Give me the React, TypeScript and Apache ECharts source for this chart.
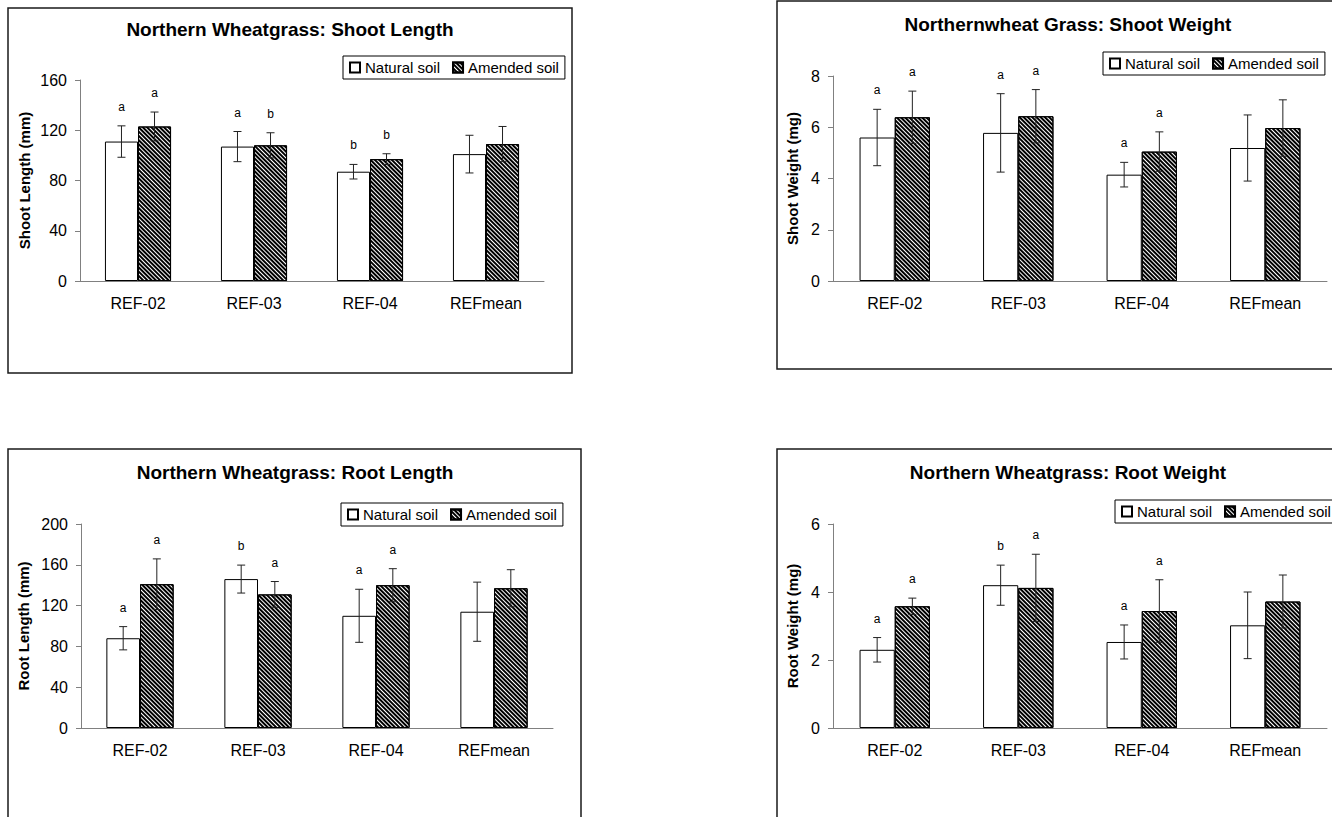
import React, { useEffect, useRef } from 'react';
import * as echarts from 'echarts';

// ---------- data ----------
const categories = ['REF-02', 'REF-03', 'REF-04', 'REFmean'];
const seriesNames = ['Natural soil', 'Amended soil'];

const shootLengthNatural = [111, 107, 87, 101];
const shootLengthNaturalErr = [12.5, 12, 5.8, 15];
const shootLengthAmended = [123, 108, 97, 109];
const shootLengthAmendedErr = [11.5, 10, 4.3, 14];
const shootLengthNaturalLetters = ['a', 'a', 'b', ''];
const shootLengthAmendedLetters = ['a', 'b', 'b', ''];

const shootWeightNatural = [5.6, 5.78, 4.15, 5.19];
const shootWeightNaturalErr = [1.1, 1.53, 0.48, 1.29];
const shootWeightAmended = [6.39, 6.43, 5.05, 5.97];
const shootWeightAmendedErr = [1.02, 1.04, 0.77, 1.1];
const shootWeightNaturalLetters = ['a', 'a', 'a', ''];
const shootWeightAmendedLetters = ['a', 'a', 'a', ''];

const rootLengthNatural = [88, 146, 110, 114];
const rootLengthNaturalErr = [11.4, 13.7, 26, 29];
const rootLengthAmended = [141, 131, 140, 137];
const rootLengthAmendedErr = [24.8, 12.6, 16.2, 18.2];
const rootLengthNaturalLetters = ['a', 'b', 'a', ''];
const rootLengthAmendedLetters = ['a', 'a', 'a', ''];

const rootWeightNatural = [2.3, 4.2, 2.53, 3.02];
const rootWeightNaturalErr = [0.36, 0.59, 0.5, 0.98];
const rootWeightAmended = [3.58, 4.12, 3.44, 3.72];
const rootWeightAmendedErr = [0.24, 0.99, 0.92, 0.78];
const rootWeightNaturalLetters = ['a', 'b', 'a', ''];
const rootWeightAmendedLetters = ['a', 'a', 'a', ''];

// ---------- layout / style ----------
const FONT = '"Liberation Sans", Arial, Helvetica, sans-serif';
const BAR_RATIO = 0.285;
const AXIS_COLOR = '#808080';

const panels = [
  {
    title: 'Northern Wheatgrass: Shoot Length',
    yName: 'Shoot Length (mm)',
    max: 160, interval: 40,
    natural: shootLengthNatural, naturalErr: shootLengthNaturalErr, naturalLetters: shootLengthNaturalLetters,
    amended: shootLengthAmended, amendedErr: shootLengthAmendedErr, amendedLetters: shootLengthAmendedLetters,
    frame: { x: 8, y: 8, w: 564, h: 365 },
    titlePos: [290, 29],
    grid: { left: 80, top: 80, width: 464, height: 201 },
    legend: { left: 343, top: 56 },
    nameGap: 48,
  },
  {
    title: 'Northernwheat Grass: Shoot Weight',
    yName: 'Shoot Weight (mg)',
    max: 8, interval: 2,
    natural: shootWeightNatural, naturalErr: shootWeightNaturalErr, naturalLetters: shootWeightNaturalLetters,
    amended: shootWeightAmended, amendedErr: shootWeightAmendedErr, amendedLetters: shootWeightAmendedLetters,
    frame: { x: 777, y: 1, w: 600, h: 368 },
    titlePos: [1068, 24],
    grid: { left: 833, top: 76, width: 494, height: 205 },
    legend: { left: 1103, top: 52 },
    nameGap: 33,
  },
  {
    title: 'Northern Wheatgrass: Root Length',
    yName: 'Root Length (mm)',
    max: 200, interval: 40,
    natural: rootLengthNatural, naturalErr: rootLengthNaturalErr, naturalLetters: rootLengthNaturalLetters,
    amended: rootLengthAmended, amendedErr: rootLengthAmendedErr, amendedLetters: rootLengthAmendedLetters,
    frame: { x: 8, y: 449, w: 573, h: 500 },
    titlePos: [295, 472],
    grid: { left: 81, top: 524, width: 472, height: 204 },
    legend: { left: 341, top: 503 },
    nameGap: 50,
  },
  {
    title: 'Northern Wheatgrass: Root Weight',
    yName: 'Root Weight (mg)',
    max: 6, interval: 2,
    natural: rootWeightNatural, naturalErr: rootWeightNaturalErr, naturalLetters: rootWeightNaturalLetters,
    amended: rootWeightAmended, amendedErr: rootWeightAmendedErr, amendedLetters: rootWeightAmendedLetters,
    frame: { x: 777, y: 449, w: 600, h: 500 },
    titlePos: [1068, 472],
    grid: { left: 833, top: 524, width: 494, height: 204 },
    legend: { left: 1115, top: 500 },
    nameGap: 33,
  },
];

function errorSeries(idx: number, means: number[], errs: number[], letters: string[], side: number) {
  return {
    type: 'custom',
    name: 'err' + idx + '_' + side,
    xAxisIndex: idx,
    yAxisIndex: idx,
    silent: true,
    z: 10,
    data: means.map((m, i) => [i, m, errs[i]]),
    encode: { x: 0, y: 1 },
    renderItem: (params: any, api: any) => {
      const i = api.value(0);
      const m = api.value(1);
      const e = api.value(2);
      const band = api.size([1, 0])[0];
      const off = (side * band * BAR_RATIO) / 2;
      const top = api.coord([i, m + e]);
      const bot = api.coord([i, m - e]);
      const x = top[0] + off;
      const cap = 4;
      const ls = { stroke: '#222', lineWidth: 1 };
      const children: any[] = [
        { type: 'line', shape: { x1: x, y1: top[1], x2: x, y2: bot[1] }, style: ls },
        { type: 'line', shape: { x1: x - cap, y1: top[1], x2: x + cap, y2: top[1] }, style: ls },
        { type: 'line', shape: { x1: x - cap, y1: bot[1], x2: x + cap, y2: bot[1] }, style: ls },
      ];
      const letter = letters[params.dataIndex];
      if (letter) {
        children.push({
          type: 'text',
          style: {
            text: letter, x, y: top[1] - 19,
            align: 'center', verticalAlign: 'middle',
            textAlign: 'center', textVerticalAlign: 'middle',
            font: '12px ' + FONT, fill: '#000',
          },
        });
      }
      return { type: 'group', children };
    },
  };
}

export default function App() {
  const ref = useRef<HTMLDivElement>(null);
  useEffect(() => {
    if (!ref.current) return;
    const chart = echarts.init(ref.current, null, { renderer: 'svg' });

    const graphic: any[] = [];
    panels.forEach((p) => {
      graphic.push({
        type: 'rect', silent: true, z: -10,
        shape: { x: p.frame.x, y: p.frame.y, width: p.frame.w, height: p.frame.h },
        style: { fill: '#fff', stroke: '#1a1a1a', lineWidth: 1.5 },
      });
      graphic.push({
        type: 'text', silent: true,
        style: {
          text: p.title, x: p.titlePos[0], y: p.titlePos[1],
          align: 'center', verticalAlign: 'middle',
          textAlign: 'center', textVerticalAlign: 'middle',
          font: 'bold 19px ' + FONT, fill: '#000',
        },
      });
    });

    const series: any[] = [];
    panels.forEach((p, i) => {
      series.push({
        type: 'bar', name: seriesNames[0], xAxisIndex: i, yAxisIndex: i,
        data: p.natural, barWidth: (BAR_RATIO * 100) + '%', barGap: '0%',
        itemStyle: { color: '#fff', borderColor: '#000', borderWidth: 1 },
      });
      series.push({
        type: 'bar', name: seriesNames[1], xAxisIndex: i, yAxisIndex: i,
        data: p.amended, barWidth: (BAR_RATIO * 100) + '%', barGap: '0%',
        itemStyle: {
          color: '#fff', borderColor: '#000', borderWidth: 1,
          decal: {
            symbol: 'rect', symbolSize: 1, color: '#000',
            dashArrayX: [1, 0], dashArrayY: [2, 1], rotation: Math.PI / 4,
          },
        },
      });
      series.push(errorSeries(i, p.natural, p.naturalErr, p.naturalLetters, -1));
      series.push(errorSeries(i, p.amended, p.amendedErr, p.amendedLetters, 1));
    });

    chart.setOption({
      animation: false,
      backgroundColor: '#fff',
      graphic,
      grid: panels.map((p) => ({ ...p.grid })),
      xAxis: panels.map((p, i) => ({
        type: 'category', gridIndex: i, data: categories,
        axisLine: { lineStyle: { color: AXIS_COLOR } },
        axisTick: { length: 5, lineStyle: { color: AXIS_COLOR } },
        axisLabel: { color: '#000', fontSize: 16, fontFamily: FONT, margin: 14 },
      })),
      yAxis: panels.map((p, i) => ({
        type: 'value', gridIndex: i, min: 0, max: p.max, interval: p.interval,
        name: p.yName, nameLocation: 'middle', nameGap: p.nameGap, nameRotate: 90,
        nameTextStyle: { fontWeight: 'bold', fontSize: 15, color: '#000', fontFamily: FONT },
        axisLine: { show: true, lineStyle: { color: AXIS_COLOR } },
        axisTick: { show: true, length: 5, lineStyle: { color: AXIS_COLOR } },
        axisLabel: { color: '#000', fontSize: 16, fontFamily: FONT, margin: 13 },
        splitLine: { show: false },
      })),
      legend: panels.map((p) => ({
        data: seriesNames, left: p.legend.left, top: p.legend.top, width: 280,
        orient: 'horizontal', padding: [4, 6], itemWidth: 10, itemHeight: 10, itemGap: 12,
        borderColor: '#000', borderWidth: 1, backgroundColor: '#fff', icon: 'rect',
        selectedMode: false,
        textStyle: { fontSize: 15, color: '#000', fontFamily: FONT },
      })),
      series,
    });
    return () => chart.dispose();
  }, []);
  return (
    <div
      ref={ref}
      style={{ position: 'fixed', left: 0, top: 0, width: 1332, height: 817, background: '#fff' }}
    />
  );
}
